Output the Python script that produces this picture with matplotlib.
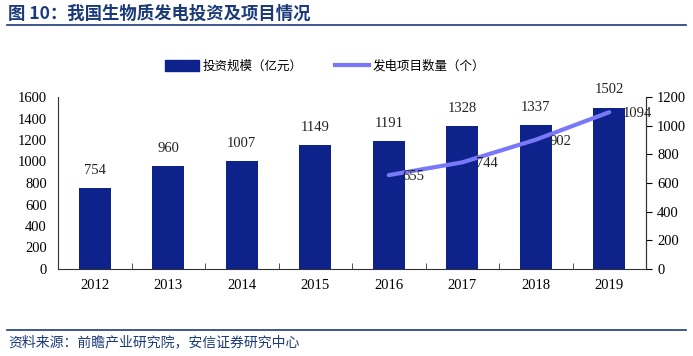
import matplotlib
matplotlib.use("Agg")
import matplotlib.pyplot as plt
import numpy as np
from matplotlib.patches import Patch
from matplotlib.lines import Line2D

years = ["2012", "2013", "2014", "2015", "2016", "2017", "2018", "2019"]
invest = [754, 960, 1007, 1149, 1191, 1328, 1337, 1502]
proj_years = ["2016", "2017", "2018", "2019"]
projects = [655, 744, 902, 1094]

title = "图 10：我国生物质发电投资及项目情况"
source = "资料来源：前瞻产业研究院，安信证券研究中心"
leg_bar = "投资规模（亿元）"
leg_line = "发电项目数量（个）"

cjk = ["Noto Sans CJK SC", "DejaVu Sans"]
serif = ["Liberation Serif", "DejaVu Serif"]
bar_color = "#0E228C"
line_color = "#7878F8"
title_color = "#1B3A7A"
fs = 10.5

fig = plt.figure(figsize=(6.93, 3.56), dpi=100)
ax = fig.add_axes([58/693, 1-269/356, (646-58)/693, (269-97)/356])
ax2 = ax.twinx()

x = np.arange(len(years))
ax.bar(x, invest, width=0.43, color=bar_color, zorder=2)
for xi, v in zip(x, invest):
    ax.annotate(str(v), (xi, v), xytext=(0, 8), textcoords="offset points",
                ha="center", va="bottom", fontsize=fs, family=serif, color="#222222")

px = [years.index(y) for y in proj_years]
ax2.plot(px, projects, color=line_color, lw=3, solid_capstyle="round", zorder=3)
for xi, v in zip(px, projects):
    ax2.annotate(str(v), (xi, v), xytext=(10, -1), textcoords="offset points",
                 ha="left", va="center", fontsize=fs, family=serif, color="#222222")

ax.set_xlim(-0.5, len(years) - 0.5)
ax.set_ylim(0, 1600)
ax.set_yticks(np.arange(0, 1601, 200))
ax2.set_ylim(0, 1200)
ax2.set_yticks(np.arange(0, 1201, 200))

ax.set_xticks(x)
ax.set_xticklabels(years, family=serif, fontsize=fs)
ax.tick_params(axis="x", length=0, pad=7)
ax.set_xticks(np.arange(-0.5, len(years), 1), minor=True)
ax.tick_params(axis="x", which="minor", direction="in", length=4, color="#333333")
for a in (ax, ax2):
    for lab in a.get_yticklabels():
        lab.set_family(serif)
        lab.set_fontsize(fs)
ax.tick_params(axis="y", length=0, pad=8)
ax2.tick_params(axis="y", direction="out", length=4, pad=4)

for a in (ax, ax2):
    a.spines["top"].set_visible(False)
    for s in a.spines.values():
        s.set_color("#333333")
        s.set_linewidth(0.8)
ax2.spines["left"].set_visible(False)
ax2.spines["bottom"].set_visible(False)

handles = [Patch(color=bar_color), Line2D([0], [0], color=line_color, lw=3)]
fig.legend(handles, [leg_bar, leg_line], loc="center", bbox_to_anchor=(325/693, 1-66/356),
           ncol=2, frameon=False, prop={"family": cjk, "size": 9},
           handlelength=2.7, handleheight=1.0, columnspacing=2.6, handletextpad=0.3)

fig.text(8/693, 1-14/356, title, family=cjk, fontsize=12.5, fontweight="bold",
         color=title_color, va="center", ha="left")
fig.add_artist(Line2D([7/693, 686/693], [1-25/356, 1-25/356], color=title_color, lw=1.2))
fig.add_artist(Line2D([7/693, 686/693], [1-330/356, 1-330/356], color=title_color, lw=1.2))
fig.text(8/693, 1-342/356, source, family=cjk, fontsize=10, style="italic",
         color=title_color, va="center", ha="left")

fig.savefig("out.png", dpi=100)
